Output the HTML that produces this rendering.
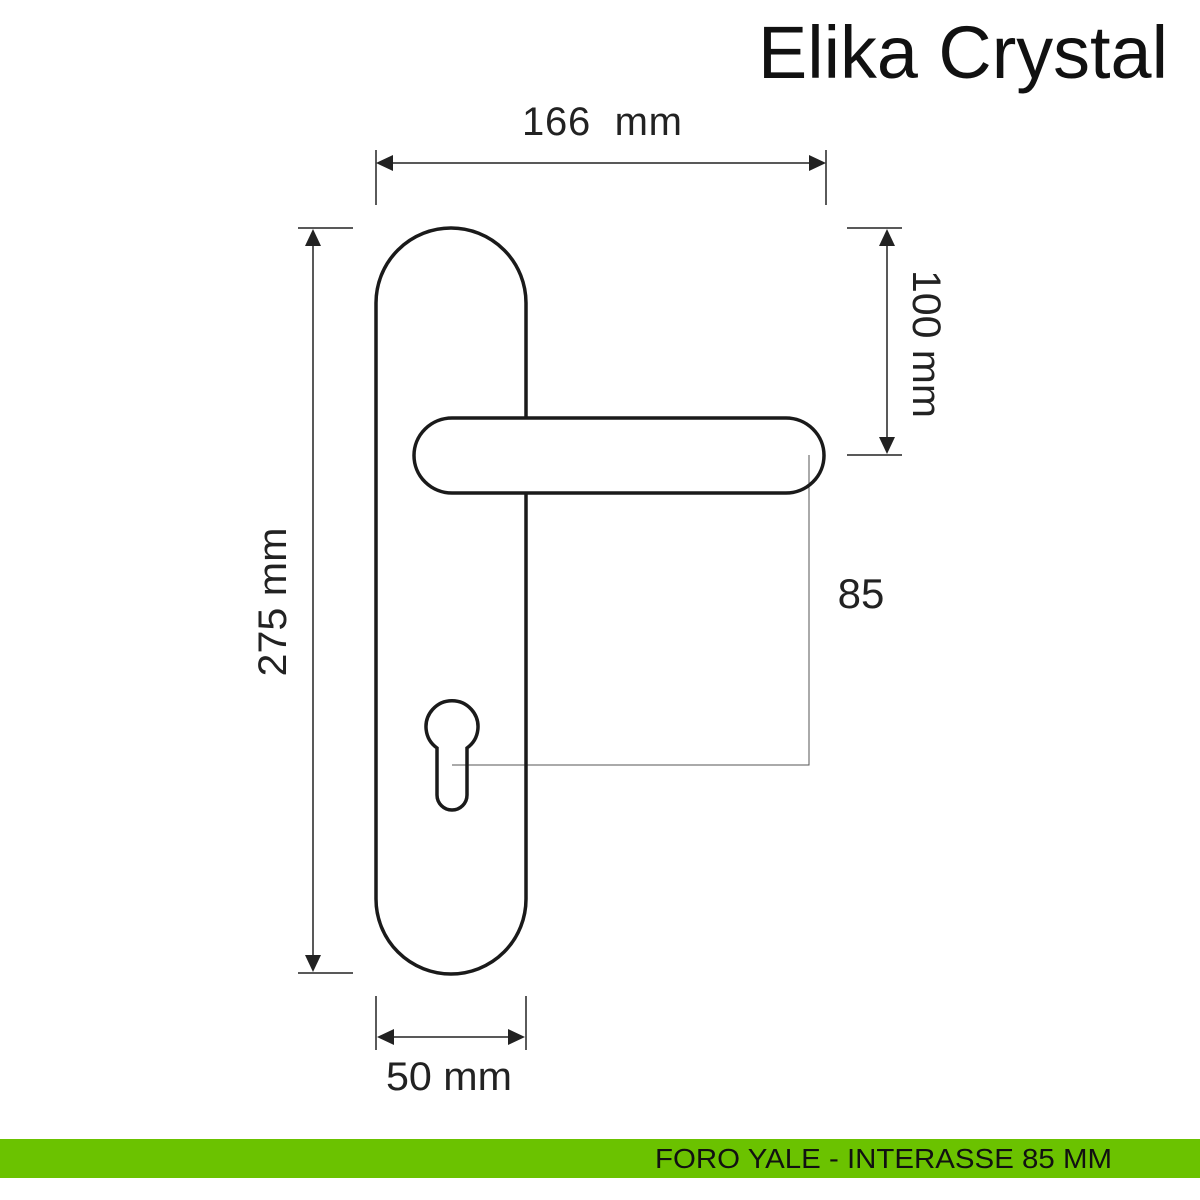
<!DOCTYPE html>
<html><head><meta charset="utf-8"><style>body{margin:0;background:#fff}svg{display:block}</style></head>
<body>
<svg width="1200" height="1200" viewBox="0 0 1200 1200" xmlns="http://www.w3.org/2000/svg" font-family="Liberation Sans, sans-serif">
<rect width="1200" height="1200" fill="#fff"/>
<text x="1168" y="78" font-size="74" text-anchor="end" fill="#111" font-family="Liberation Sans, sans-serif" textLength="410" lengthAdjust="spacingAndGlyphs">Elika Crystal</text>
<g stroke="#222" stroke-width="1.5" fill="none">
<line x1="376" y1="150" x2="376" y2="205"/><line x1="826" y1="150" x2="826" y2="205"/>
<line x1="390" y1="163" x2="812" y2="163"/>
<line x1="847" y1="228" x2="902" y2="228"/><line x1="847" y1="455" x2="902" y2="455"/>
<line x1="887" y1="242" x2="887" y2="441"/>
<line x1="298" y1="228" x2="353" y2="228"/><line x1="298" y1="973" x2="353" y2="973"/>
<line x1="313" y1="242" x2="313" y2="959"/>
<line x1="376" y1="996" x2="376" y2="1050"/><line x1="526" y1="996" x2="526" y2="1050"/>
<line x1="390" y1="1037" x2="512" y2="1037"/>
<polyline points="452,765 809,765 809,455" stroke-width="1" stroke="#555"/>
</g>
<g fill="#222">
<polygon points="376,163 393,155 393,171"/><polygon points="826,163 809,155 809,171"/>
<polygon points="887,229 879,246 895,246"/><polygon points="887,454 879,437 895,437"/>
<polygon points="313,229 305,246 321,246"/><polygon points="313,972 305,955 321,955"/>
<polygon points="377,1037 394,1029 394,1045"/><polygon points="525,1037 508,1029 508,1045"/>
</g>
<g stroke="#1a1a1a" stroke-width="3.5" fill="none">
<path d="M376,899 L376,303 A75,75 0 0 1 526,303 L526,418"/>
<path d="M526,493 L526,899 A75,75 0 0 1 376,899"/>
<rect x="414" y="418" width="410" height="75" rx="38"/>
<path d="M437,748 A26,26 0 1 1 467,748 L467,795 A15,15 0 0 1 437,795 Z"/>
</g>
<g font-size="40" fill="#222">
<text x="602" y="135" text-anchor="middle" textLength="160" lengthAdjust="spacing" xml:space="preserve">166  mm</text>
<text x="449" y="1090" text-anchor="middle" textLength="126" lengthAdjust="spacingAndGlyphs">50 mm</text>
<text x="861" y="608" text-anchor="middle" font-size="42">85</text>
<text transform="translate(272,602) rotate(-90)" x="0" y="14" text-anchor="middle" textLength="149" lengthAdjust="spacingAndGlyphs">275 mm</text>
<text transform="translate(927,344) rotate(90)" x="0" y="14" text-anchor="middle" textLength="148" lengthAdjust="spacingAndGlyphs">100 mm</text>
</g>
<rect x="0" y="1139" width="1200" height="39" fill="#6bc200"/>
<text x="1112" y="1168" font-size="28" text-anchor="end" fill="#111" textLength="457" lengthAdjust="spacingAndGlyphs">FORO YALE - INTERASSE 85 MM</text>
</svg>
</body></html>
